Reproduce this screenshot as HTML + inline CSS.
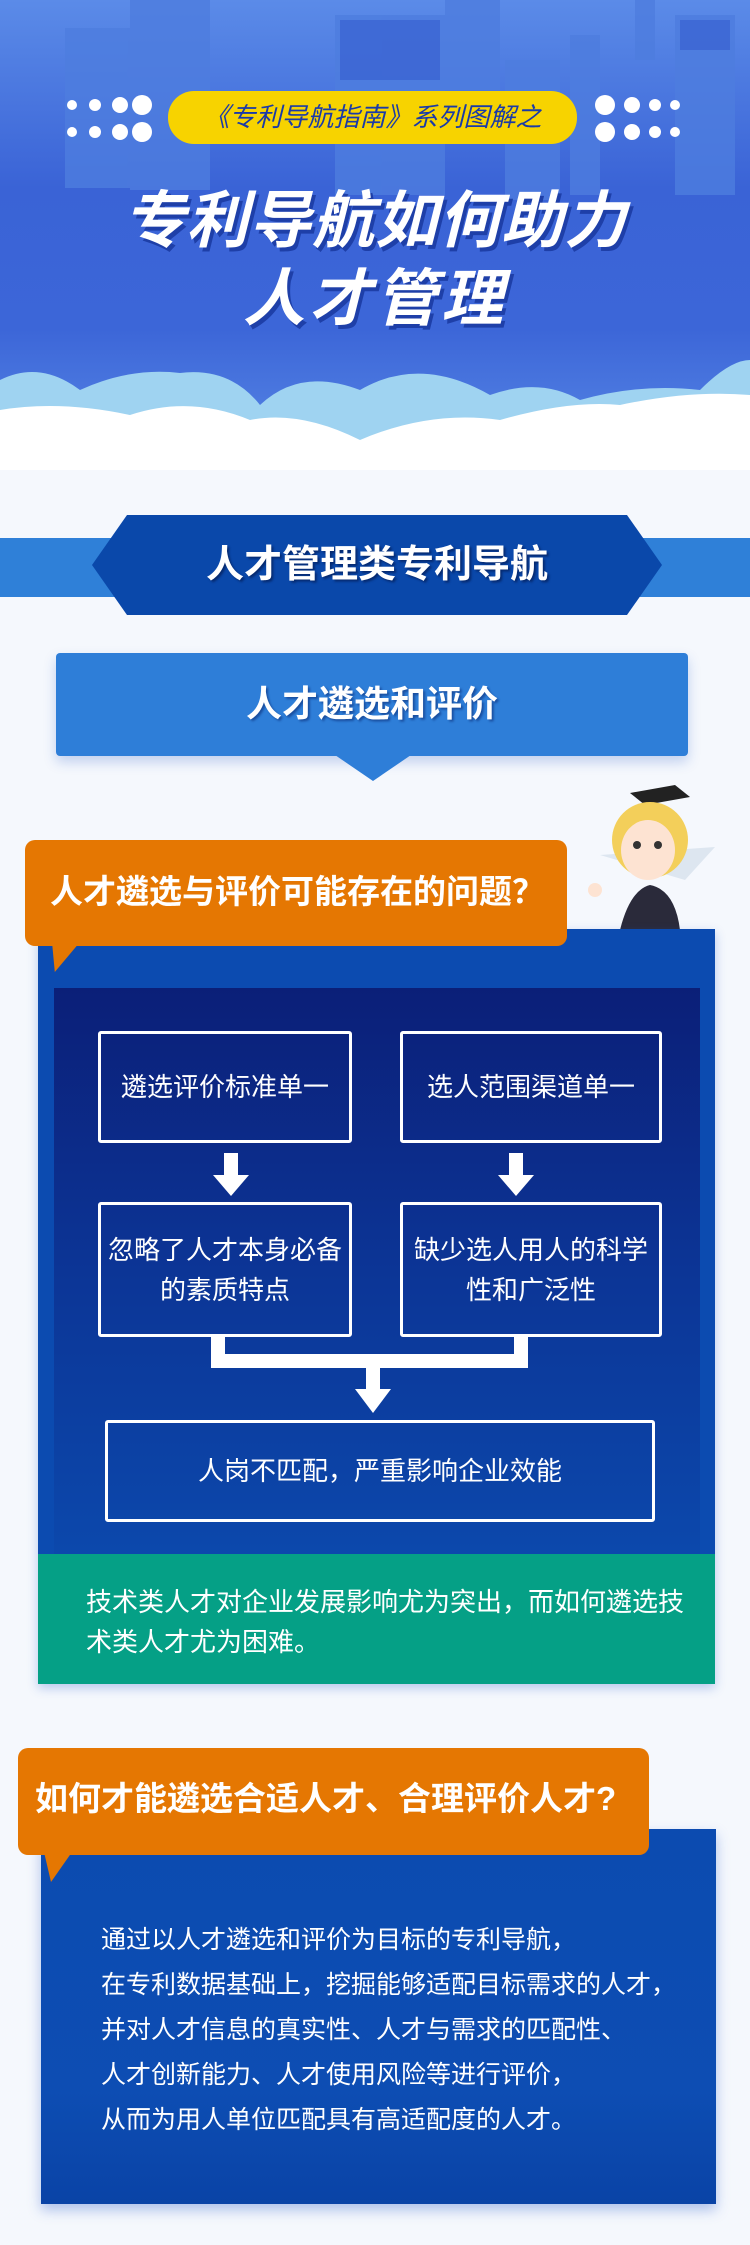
<!DOCTYPE html>
<html><head><meta charset="utf-8"><style>
*{margin:0;padding:0;box-sizing:border-box}
body{width:750px;height:2245px;position:relative;overflow:hidden;background:#f5f8fd;font-family:"Liberation Sans","Noto Sans CJK SC",sans-serif}
.a{position:absolute}
.t{color:#fff;text-align:center;white-space:nowrap}
.box{position:absolute;border:3px solid #fff;border-radius:3px;color:#fff;font-size:26px;display:flex;align-items:center;justify-content:center;text-align:center;line-height:40px}
</style></head><body>
<!-- header sky -->
<div class="a" style="left:0;top:0;width:750px;height:470px;background:linear-gradient(#5b8be8 0%,#3a63d6 40%,#3c66d8 70%,#5a8ae6 100%)"></div>
<svg class="a" style="left:0;top:0" width="750" height="210">
<g fill="#4e7ddf" opacity=".8">
<rect x="65" y="28" width="65" height="160"/><rect x="130" y="0" width="80" height="190"/><rect x="335" y="15" width="110" height="180"/><rect x="445" y="0" width="55" height="90"/><rect x="505" y="60" width="55" height="140"/><rect x="570" y="35" width="30" height="160"/><rect x="635" y="0" width="20" height="60"/><rect x="675" y="15" width="60" height="180"/>
</g>
<g fill="#2f56cc" opacity=".5"><rect x="340" y="20" width="100" height="60"/><rect x="680" y="20" width="50" height="30"/></g>
</svg>
<div class="a" style="left:168px;top:91px;width:409px;height:53px;border-radius:26px;background:#f7d300"></div>
<div class="a t" style="left:168px;top:99px;width:409px;font-size:26px;color:#1a3aa8;font-style:italic;line-height:36px">《专利导航指南》系列图解之</div>
<svg class="a" style="left:50px;top:92px" width="110" height="52"><g fill="#fff"><circle cx="22" cy="13" r="5"/><circle cx="45" cy="13" r="6"/><circle cx="70" cy="13" r="8"/><circle cx="92" cy="13" r="10"/><circle cx="22" cy="40" r="5"/><circle cx="45" cy="40" r="6"/><circle cx="70" cy="40" r="8"/><circle cx="92" cy="40" r="10"/></g></svg>
<svg class="a" style="left:590px;top:92px" width="110" height="52"><g fill="#fff"><circle cx="15" cy="13" r="10"/><circle cx="42" cy="13" r="8"/><circle cx="65" cy="13" r="6"/><circle cx="85" cy="13" r="5"/><circle cx="15" cy="40" r="10"/><circle cx="42" cy="40" r="8"/><circle cx="65" cy="40" r="6"/><circle cx="85" cy="40" r="5"/></g></svg>
<div class="a t" style="left:0;top:186px;width:750px;font-size:62px;font-weight:bold;font-style:italic;line-height:72px;text-shadow:3px 4px 0 #1e3fa8;letter-spacing:1px">专利导航如何助力</div>
<div class="a t" style="left:0;top:264px;width:750px;font-size:62px;font-weight:bold;font-style:italic;line-height:72px;text-shadow:3px 4px 0 #1e3fa8;letter-spacing:4px">人才管理</div>
<!-- clouds -->
<svg class="a" style="left:0;top:355px" width="750" height="115">
<path d="M0 25 Q40 5 80 35 Q130 12 180 18 Q230 12 260 50 Q300 12 360 35 Q420 0 490 40 Q540 22 580 45 Q640 28 700 35 Q730 5 750 5 L750 115 L0 115Z" fill="#9fd3f1"/>
<path d="M0 55 Q60 45 130 60 Q190 40 250 65 Q300 55 360 85 Q430 55 500 65 Q570 45 620 50 Q690 35 750 40 L750 115 L0 115Z" fill="#fff"/>
</svg>
<!-- ribbon -->
<div class="a" style="left:0;top:538px;width:750px;height:59px;background:#2f80d8"></div>
<div class="a" style="left:92px;top:515px;width:570px;height:100px;background:#0a48aa;clip-path:polygon(35px 0,535px 0,570px 50px,535px 100px,35px 100px,0 50px)"></div>
<div class="a t" style="left:92px;top:540px;width:570px;font-size:38px;font-weight:bold;line-height:50px;text-shadow:2px 2px 2px #062a70">人才管理类专利导航</div>
<!-- sub title box -->
<div class="a" style="left:56px;top:653px;width:632px;height:103px;background:#2e7ed8;border-radius:4px;box-shadow:0 6px 12px rgba(40,90,200,.25)"></div>
<div class="a" style="left:335px;top:755px;width:0;height:0;border-left:38px solid transparent;border-right:38px solid transparent;border-top:26px solid #2e7ed8"></div>
<div class="a t" style="left:56px;top:680px;width:632px;font-size:36px;font-weight:bold;line-height:48px;text-shadow:2px 2px 2px #1a4fa0">人才遴选和评价</div>
<!-- character -->
<svg class="a" style="left:580px;top:785px" width="140" height="145">
<polygon points="50,8 95,0 110,12 65,20" fill="#222"/>
<path d="M20 70 L135 62 L105 95Z" fill="#dde6f0"/>
<circle cx="70" cy="55" r="38" fill="#f3cf5a"/>
<ellipse cx="68" cy="65" rx="27" ry="30" fill="#fde3d2"/>
<circle cx="57" cy="60" r="4" fill="#333"/><circle cx="78" cy="60" r="4" fill="#333"/>
<path d="M40 145 Q50 105 70 100 Q95 105 100 145Z" fill="#2a2a3a"/>
<circle cx="15" cy="105" r="7" fill="#fde3d2"/>
</svg>
<!-- section 1 -->
<div class="a" style="left:38px;top:929px;width:677px;height:755px;background:#0c4bb0;box-shadow:0 4px 10px rgba(40,90,200,.3)"></div>
<div class="a" style="left:54px;top:988px;width:646px;height:566px;background:linear-gradient(#0b1f78,#0c3596 50%,#0c48ac)"></div>
<div class="a" style="left:38px;top:1554px;width:677px;height:130px;background:#05a086"></div>
<div class="a" style="left:25px;top:840px;width:542px;height:106px;background:#e57702;border-radius:10px"></div>
<div class="a" style="left:52px;top:942px;width:28px;height:30px;background:#e57702;clip-path:polygon(0 0,100% 0,10% 100%)"></div>
<div class="a t" style="left:25px;top:870px;width:542px;font-size:33px;font-weight:bold;line-height:44px;text-align:left;padding-left:25px">人才遴选与评价可能存在的问题？</div>
<div class="box" style="left:98px;top:1031px;width:254px;height:112px">遴选评价标准单一</div>
<div class="box" style="left:400px;top:1031px;width:262px;height:112px">选人范围渠道单一</div>
<div class="box" style="left:98px;top:1202px;width:254px;height:135px">忽略了人才本身必备<br>的素质特点</div>
<div class="box" style="left:400px;top:1202px;width:262px;height:135px">缺少选人用人的科学<br>性和广泛性</div>
<svg class="a" style="left:0;top:1143px" width="750" height="280">
<g fill="#fff">
<rect x="224" y="10" width="14" height="24"/><polygon points="213,32 249,32 231,53"/>
<rect x="509" y="10" width="14" height="24"/><polygon points="498,32 534,32 516,53"/>
<path d="M211 194 h14 v17 h289 v-17 h14 v31 h-317z"/>
<rect x="366" y="224" width="14" height="25"/><polygon points="355,246 391,246 373,270"/>
</g></svg>
<div class="box" style="left:105px;top:1420px;width:550px;height:102px">人岗不匹配，严重影响企业效能</div>
<div class="a" style="left:86px;top:1582px;width:600px;color:#fff;font-size:26px;line-height:40px">技术类人才对企业发展影响尤为突出，而如何遴选技术类人才尤为困难。</div>
<!-- section 2 -->
<div class="a" style="left:41px;top:1829px;width:675px;height:375px;background:linear-gradient(#0c4bb0,#0d4db3 70%,#0a43a6);box-shadow:0 6px 12px rgba(40,90,200,.35)"></div>
<div class="a" style="left:18px;top:1748px;width:631px;height:107px;background:#e57702;border-radius:10px"></div>
<div class="a" style="left:44px;top:1852px;width:28px;height:30px;background:#e57702;clip-path:polygon(0 0,100% 0,25% 100%)"></div>
<div class="a t" style="left:18px;top:1776px;width:631px;font-size:33px;font-weight:bold;line-height:46px;text-align:left;padding-left:17px">如何才能遴选合适人才、合理评价人才?</div>
<div class="a" style="left:101px;top:1918px;width:600px;color:#fff;font-size:25px;line-height:45px;white-space:nowrap">通过以人才遴选和评价为目标的专利导航，<br>在专利数据基础上，挖掘能够适配目标需求的人才，<br>并对人才信息的真实性、人才与需求的匹配性、<br>人才创新能力、人才使用风险等进行评价，<br>从而为用人单位匹配具有高适配度的人才。</div>
</body></html>
